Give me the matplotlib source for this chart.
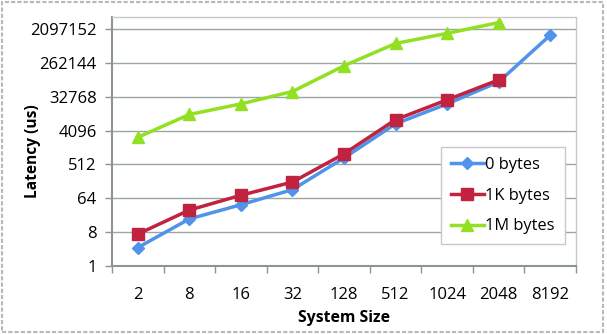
import matplotlib.pyplot as plt
import numpy as np
from matplotlib.patches import Rectangle

sizes = ["2", "8", "16", "32", "128", "512", "1024", "2048", "8192"]
lat_0 = [3.1, 18, 43, 109, 760, 6200, 21000, 81000, 1430000]
lat_1k = [7.1, 31, 77, 173, 980, 8000, 27000, 92000]
lat_1m = [2700, 11000, 21000, 45000, 218000, 860000, 1600000, 3100000]

yticks = [8 ** k for k in range(8)]

plt.rcParams['font.family'] = ['Open Sans', 'DejaVu Sans']

fig = plt.figure(figsize=(6.07, 3.34), dpi=100)
ax = fig.add_axes([112 / 607, 68 / 334, 464 / 607, 249 / 334])

x = np.arange(len(sizes))
ax.plot(x[:len(lat_0)], lat_0, color="#4f94ea", marker="D", markersize=6, lw=2.5, label="0 bytes")
ax.plot(x[:len(lat_1k)], lat_1k, color="#c0223f", marker="s", markersize=8, lw=2.5, label="1K bytes")
ax.plot(x[:len(lat_1m)], lat_1m, color="#92e021", marker="^", markersize=9, lw=2.5, label="1M bytes")

ax.set_yscale("log", base=8)
ax.set_ylim(1, 8 ** (7 + 12 / 34))
ax.set_yticks(yticks)
ax.set_yticklabels([str(v) for v in yticks])
ax.yaxis.set_minor_locator(plt.NullLocator())
ax.set_xlim(-0.5, len(sizes) - 0.5)
ax.set_xticks(x)
ax.set_xticklabels(sizes)
ax.set_xticks(np.arange(len(sizes) + 1) - 0.5, minor=True)
ax.tick_params(axis="x", which="major", length=0, pad=15, labelsize=12)
ax.tick_params(axis="x", which="minor", length=5, color="#8a9696", width=1)
ax.tick_params(axis="y", length=5, color="#8a9696", width=1, labelsize=12, pad=6)
ax.grid(axis="y", color="#9aa6a6", lw=1)
ax.set_axisbelow(True)

for s in ["left", "bottom"]:
    ax.spines[s].set_color("#8a9696")
    ax.spines[s].set_linewidth(1.5)
for s in ["top", "right"]:
    ax.spines[s].set_color("#c8c8c8")
    ax.spines[s].set_linewidth(1)
    ax.spines[s].set_linestyle((0, (2, 1)))

ax.set_xlabel("System Size", fontweight="bold", fontsize=11.3)
ax.set_ylabel("Latency (us)", fontweight="bold", fontsize=11.2)
ax.xaxis.set_label_coords(344 / 607, 24 / 334, transform=fig.transFigure)
ax.yaxis.set_label_coords(41 / 607, 183 / 334, transform=fig.transFigure)

leg = ax.legend(loc="upper left", bbox_to_anchor=(441 / 607, (334 - 147) / 334),
                bbox_transform=fig.transFigure, fancybox=False, framealpha=1,
                edgecolor="#c8c8c8", fontsize=11.8, handlelength=2.0,
                handletextpad=0.1, borderpad=0.6, labelspacing=0.9, borderaxespad=0)
leg.get_frame().set_linewidth(1)

fig.patches.append(Rectangle((0.004, 0.006), 0.99, 0.988, transform=fig.transFigure,
                             fill=False, edgecolor="#b8b8b8", lw=1.5, linestyle=(0, (2, 1))))

fig.savefig("out.png", dpi=100)
